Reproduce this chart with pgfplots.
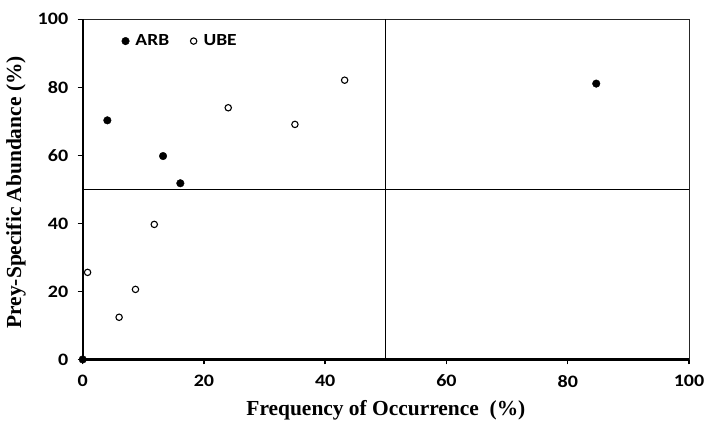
\documentclass[border=0pt]{standalone}
\usepackage{fontspec}
\setmainfont{Liberation Serif}
\newfontfamily\tickfont[FakeStretch=1.15]{Carlito}
\usepackage{pgfplots}
\pgfplotsset{compat=1.18}
\begin{document}
\begin{tikzpicture}
\begin{axis}[
 name=ax,
 scale only axis, width=606bp, height=340bp,
 xmin=0,xmax=100,ymin=0,ymax=100,
 xtick={0,20,40,60,80,100}, ytick={0,20,40,60,80,100},
 xtick pos=bottom, ytick pos=left,
 tick align=outside, major tick length=5bp,
 tick style={black, line width=1.5bp},
 axis line style={black!85, line width=0.8bp},
 ticklabel style={font=\tickfont\bfseries\fontsize{17.5}{17.5}\selectfont},
 /pgf/number format/assume math mode=true,
 xticklabel style={yshift=-7bp},
 yticklabel style={xshift=-6bp},
 clip=false,
 legend style={at={(rel axis cs:0.058,0.936)}, anchor=west, draw=none, fill=none,
   legend columns=2, font=\tickfont\bfseries\fontsize{17}{17}\selectfont,
   /tikz/every even column/.append style={column sep=18bp}},
 legend image code/.code={\path (0,0) (12bp,0); \draw[#1] plot coordinates {(4.25bp,0cm)};},
]
\draw[black, line width=0.8bp] (axis cs:50,0) -- (axis cs:50,100);
\draw[black, line width=0.8bp] (axis cs:0,50) -- (axis cs:100,50);
\draw[black, line width=2.2bp] (rel axis cs:0,1) -- (rel axis cs:0,0) -- (rel axis cs:1,0);
\addplot[only marks, mark=*, mark size=3.8bp, black] coordinates {
(4.06,70.3) (13.25,59.8) (16.1,51.8) (0,0) (84.7,81.1)};
\addlegendentry{ARB}
\addplot[only marks, mark=*, mark size=3.2bp, mark options={draw=black, fill=white, line width=1.1bp}] coordinates {
(24.0,74.0) (35.0,69.1) (43.2,82.1) (11.8,39.7) (0.8,25.6) (6.0,12.4) (8.7,20.6)};
\addlegendentry{UBE}
\node[font=\bfseries\fontsize{21.5}{21.5}\selectfont, anchor=center] at ([yshift=-50.7bp]rel axis cs:0.5,0) {Frequency of Occurrence\ \ (\%)};
\node[font=\bfseries\fontsize{21.5}{21.5}\selectfont, anchor=center, rotate=90] at ([xshift=-66.7bp,yshift=-3bp]rel axis cs:0,0.5) {Prey-Specific Abundance (\%)};
\end{axis}
\pgfresetboundingbox
\path[use as bounding box] ([xshift=-82.7bp,yshift=-63.7bp]ax.south west) rectangle ([xshift=15bp,yshift=19.3bp]ax.north east);
\end{tikzpicture}
\end{document}
